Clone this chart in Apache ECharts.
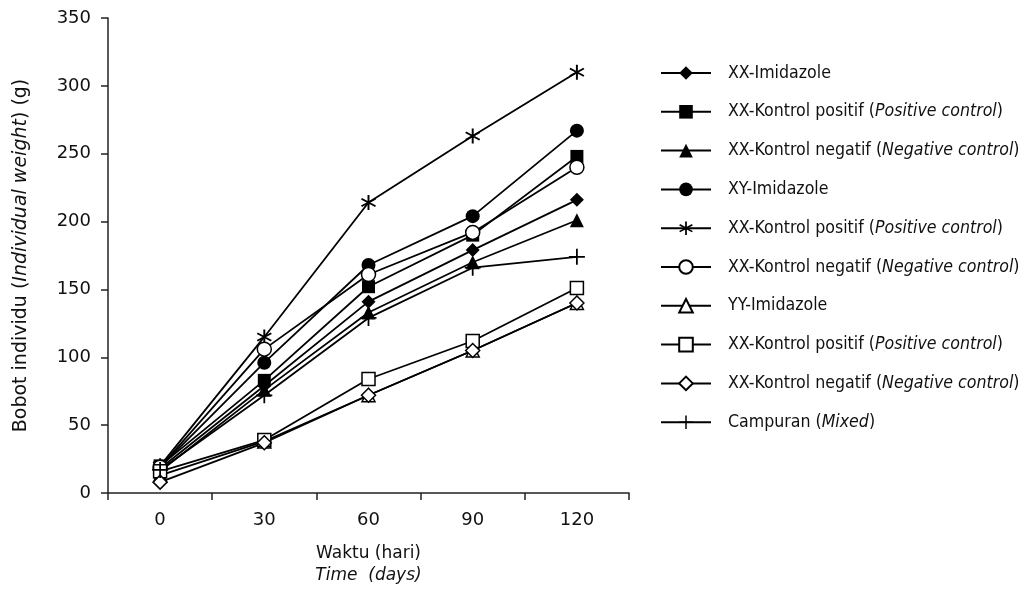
<!DOCTYPE html>
<html>
<head>
<meta charset="utf-8">
<script src="https://cdn.jsdelivr.net/npm/echarts@6/dist/echarts.min.js"></script>
<style>
html,body{margin:0;padding:0;background:#fff;}
#chart{width:1029px;height:596px;}
</style>
</head>
<body>
<div id="chart"></div>
<script>
// ---- data ----
var days = ['0', '30', '60', '90', '120'];
var xxImidazole   = [18, 79, 141, 179, 216];
var xxPositifA    = [20, 83, 152, 190, 248];
var xxNegatifA    = [16, 76, 133, 170, 201];
var xyImidazole   = [19, 96, 168, 204, 267];
var xxPositifB    = [20, 115, 214, 263, 310];
var xxNegatifB    = [19, 106, 161, 192, 240];
var yyImidazole   = [13, 38, 72, 105, 140];
var xxPositifC    = [16, 39, 84, 112, 151];
var xxNegatifC    = [8, 37, 72, 105, 140];
var campuran      = [17, 72, 129, 166, 174];

var legendLabels = [
  ['XX-Imidazole', ''],
  ['XX-Kontrol positif (', 'Positive control', ')'],
  ['XX-Kontrol negatif (', 'Negative control', ')'],
  ['XY-Imidazole', ''],
  ['XX-Kontrol positif (', 'Positive control', ')'],
  ['XX-Kontrol negatif (', 'Negative control', ')'],
  ['YY-Imidazole', ''],
  ['XX-Kontrol positif (', 'Positive control', ')'],
  ['XX-Kontrol negatif (', 'Negative control', ')'],
  ['Campuran (', 'Mixed', ')']
];

var starPath = 'path://M4.4 0L5.6 0L5.6 10L4.4 10Z M0.97 1.98L9.63 6.98L9.03 8.02L0.37 3.02Z M0.37 6.98L9.03 1.98L9.63 3.02L0.97 8.02Z';
var plusPath = 'path://M4.45 0L5.55 0L5.55 10L4.45 10Z M0 4.45L10 4.45L10 5.55L0 5.55Z';

var seriesDefs = [
  {data: xxImidazole, symbol: 'diamond', size: 14, fill: '#000'},
  {data: xxPositifA, symbol: 'rect', size: 13, fill: '#000'},
  {data: xxNegatifA, symbol: 'triangle', size: 14, fill: '#000'},
  {data: xyImidazole, symbol: 'circle', size: 14, fill: '#000'},
  {data: xxPositifB, symbol: starPath, size: 15, fill: '#000'},
  {data: xxNegatifB, symbol: 'circle', size: 14, fill: '#fff'},
  {data: yyImidazole, symbol: 'triangle', size: 13, fill: '#fff'},
  {data: xxPositifC, symbol: 'rect', size: 13, fill: '#fff'},
  {data: xxNegatifC, symbol: 'diamond', size: 14, fill: '#fff'},
  {data: campuran, symbol: plusPath, size: 16, fill: '#000'}
];

var series = seriesDefs.map(function (d, i) {
  return {
    name: 's' + i,
    type: 'line',
    data: d.data,
    symbol: d.symbol,
    symbolSize: d.size,
    showSymbol: true,
    animation: false,
    lineStyle: {color: '#000', width: 1.8},
    itemStyle: {color: d.fill, borderColor: '#000', borderWidth: d.fill === '#fff' ? 1.5 : 0, opacity: 1},
    emphasis: {disabled: true}
  };
});

var legendFont = 'Liberation Sans Narrow, DejaVu Sans Condensed, Noto Sans';

var chart = echarts.init(document.getElementById('chart'));
chart.setOption({
  backgroundColor: '#fff',
  animation: false,
  grid: {left: 108, right: 400, top: 18, bottom: 103},
  xAxis: {
    type: 'category',
    data: days,
    boundaryGap: true,
    name: '{a|Waktu (hari)}\n{b|Time  (days)}',
    nameLocation: 'middle',
    nameGap: 50,
    nameTextStyle: {
      rich: {
        a: {fontFamily: 'DejaVu Sans', fontSize: 17, color: '#111', lineHeight: 22, align: 'center'},
        b: {fontFamily: 'DejaVu Sans', fontSize: 17, fontStyle: 'italic', color: '#111', lineHeight: 22, align: 'center'}
      }
    },
    axisLine: {lineStyle: {color: '#222', width: 1.5}},
    axisTick: {show: true, length: 7, lineStyle: {color: '#222', width: 1.5}},
    axisLabel: {fontFamily: 'DejaVu Sans', fontSize: 18, color: '#111', margin: 18},
    splitLine: {show: false}
  },
  yAxis: {
    type: 'value',
    min: 0, max: 350, interval: 50,
    name: '{a|Bobot individu (}{b|Individual weight}{a|) (g)}',
    nameLocation: 'middle',
    nameGap: 77,
    nameRotate: 90,
    nameTextStyle: {
      rich: {
        a: {fontFamily: 'DejaVu Sans', fontSize: 19, color: '#111'},
        b: {fontFamily: 'DejaVu Sans', fontSize: 19, fontStyle: 'italic', color: '#111'}
      }
    },
    axisLine: {show: true, lineStyle: {color: '#222', width: 1.5}},
    axisTick: {show: true, length: 7, lineStyle: {color: '#222', width: 1.5}},
    axisLabel: {fontFamily: 'DejaVu Sans', fontSize: 18, color: '#111', margin: 17},
    splitLine: {show: false}
  },
  legend: {
    orient: 'vertical',
    left: 655,
    top: 59,
    itemWidth: 50,
    itemHeight: 17,
    itemGap: 20.8,
    selectedMode: false,
    data: series.map(function (s) { return s.name; }),
    formatter: function (name) {
      var idx = parseInt(name.slice(1), 10);
      var l = legendLabels[idx];
      if (l.length === 2) return '{s| }{a|' + l[0] + '}';
      return '{s| }{a|' + l[0] + '}{b|' + l[1] + '}{a|' + l[2] + '}';
    },
    textStyle: {
      rich: {
        s: {width: 12, lineHeight: 17},
        a: {fontFamily: legendFont, fontSize: 17.6, color: '#111', lineHeight: 17},
        b: {fontFamily: legendFont, fontSize: 17.6, fontStyle: 'italic', color: '#111', lineHeight: 17}
      }
    }
  },
  series: series
});
</script>
</body>
</html>
